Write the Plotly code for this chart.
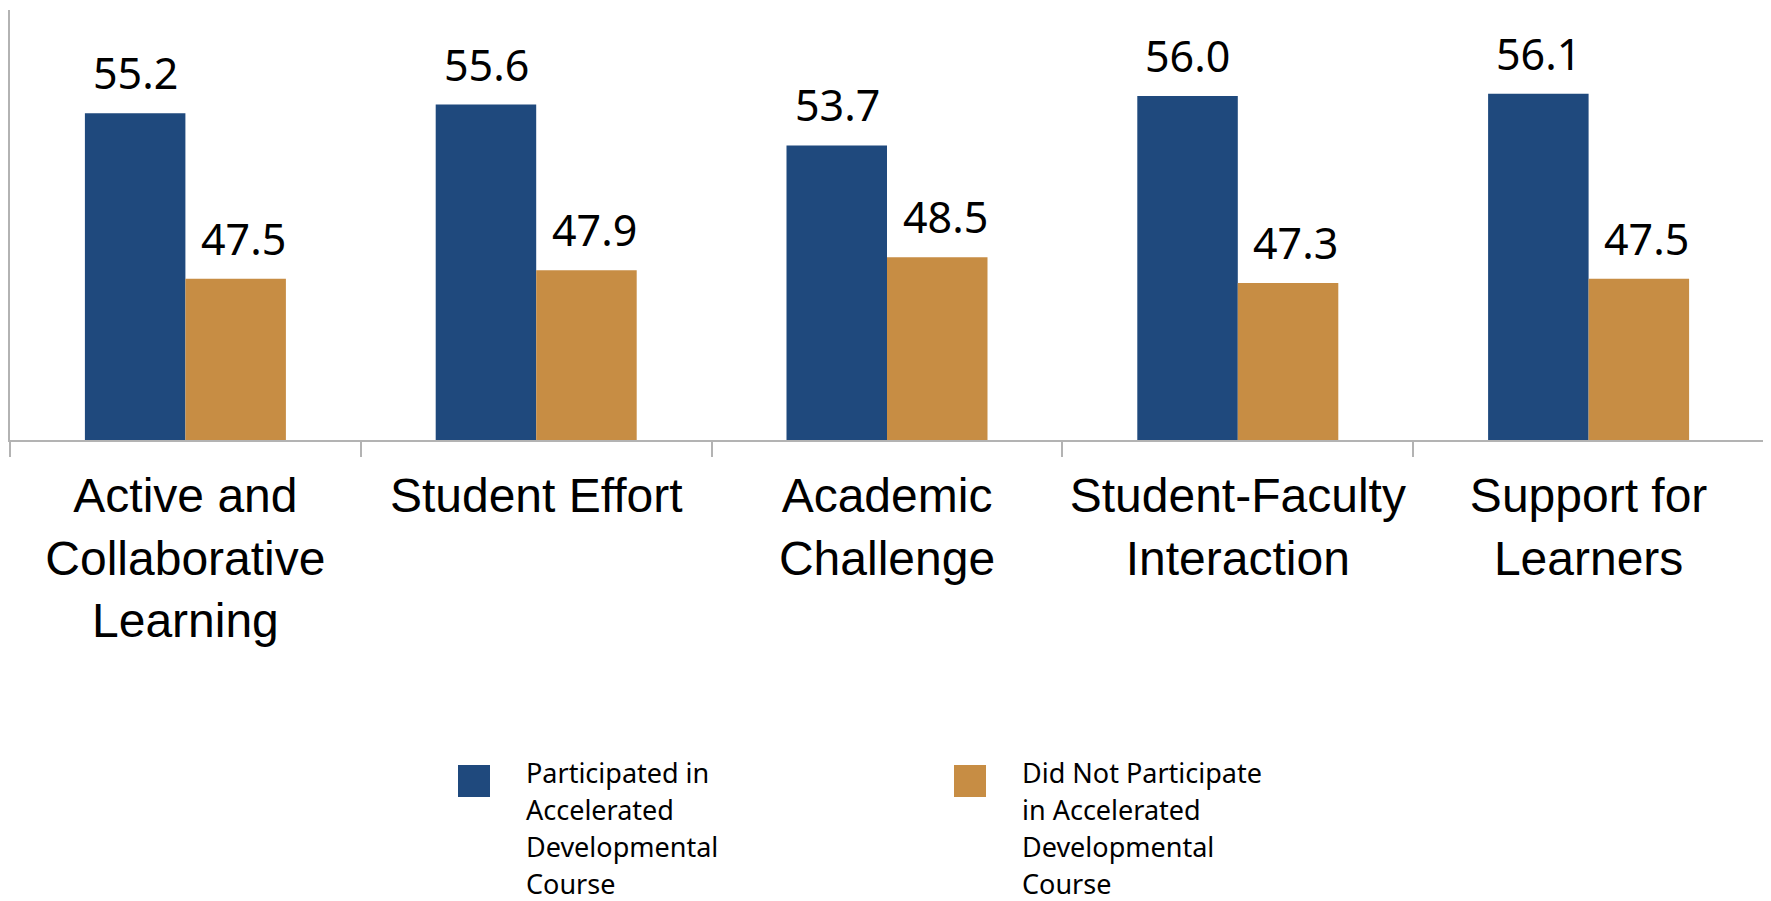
import plotly.graph_objects as go

categories = [
    "Active and<br>Collaborative<br>Learning",
    "Student Effort",
    "Academic<br>Challenge",
    "Student-Faculty<br>Interaction",
    "Support for<br>Learners",
]
participated = [55.2, 55.6, 53.7, 56.0, 56.1]
not_participated = [47.5, 47.9, 48.5, 47.3, 47.5]
series_names = [
    "Participated in<br>Accelerated<br>Developmental<br>Course",
    "Did Not Participate<br>in Accelerated<br>Developmental<br>Course",
]
colors = ["#1F497D", "#C78D44"]

OFF = 8  # page body margin
W, H = 1771 - OFF, 901 - OFF
L, R, T, B = 2, 7, 2, 461
PW, PH = W - L - R, H - T - B

def px_x(sx):
    return (sx - OFF - L) / PW

def px_y(sy):
    return (H - B - (sy - OFF)) / PH

fig = go.Figure()
for name, vals, col in zip(series_names, [participated, not_participated], colors):
    fig.add_trace(go.Bar(x=categories, y=vals, name=name.replace("<br>", " "),
                         marker=dict(color=col, line=dict(width=0)),
                         showlegend=False))

annotations = []
for k, vals in enumerate([participated, not_participated]):
    shift = -50 if k == 0 else 58
    for c, v in zip(categories, vals):
        annotations.append(dict(x=c, y=v, xref="x", yref="y", text=f"{v:.1f}",
                                showarrow=False, xshift=shift, yanchor="bottom", yshift=9,
                                font=dict(family="Noto Sans", size=43, color="black")))

# manual legend
shapes = []
legend_x = [458, 954]
for k, (name, col) in enumerate(zip(series_names, colors)):
    shapes.append(dict(type="rect", xref="paper", yref="paper",
                       xsizemode="pixel", ysizemode="pixel",
                       xanchor=px_x(legend_x[k]), yanchor=px_y(765),
                       x0=0, x1=32, y0=0, y1=-32,
                       fillcolor=col, line=dict(width=0)))
    for i, line in enumerate(name.split("<br>")):
        annotations.append(dict(x=px_x(legend_x[k] + 66), y=px_y(752), xref="paper", yref="paper",
                                text=line, showarrow=False, xanchor="left", yanchor="top",
                                yshift=-37 * i,
                                font=dict(family="Noto Sans", size=27, color="black")))

fig.update_layout(
    width=W, height=H,
    margin=dict(l=L, r=R, t=T, b=B, autoexpand=False),
    barmode="group", bargap=0.427, bargroupgap=0,
    plot_bgcolor="white", paper_bgcolor="white",
    annotations=annotations, shapes=shapes,
    xaxis=dict(showline=True, linecolor="#b3b3b3", linewidth=1.5,
               ticks="outside", tickson="boundaries", ticklen=15, tickcolor="#b3b3b3", tickwidth=1.5,
               tickfont=dict(family="Liberation Sans", size=48, color="black"),
               ticklabelstandoff=13, automargin=False,
               tickangle=0, showgrid=False),
    yaxis=dict(range=[40, 60], showline=True, linecolor="#b3b3b3", linewidth=1.5,
               showticklabels=False, ticks="", showgrid=False, zeroline=False),
)

fig.write_html("out.html")
